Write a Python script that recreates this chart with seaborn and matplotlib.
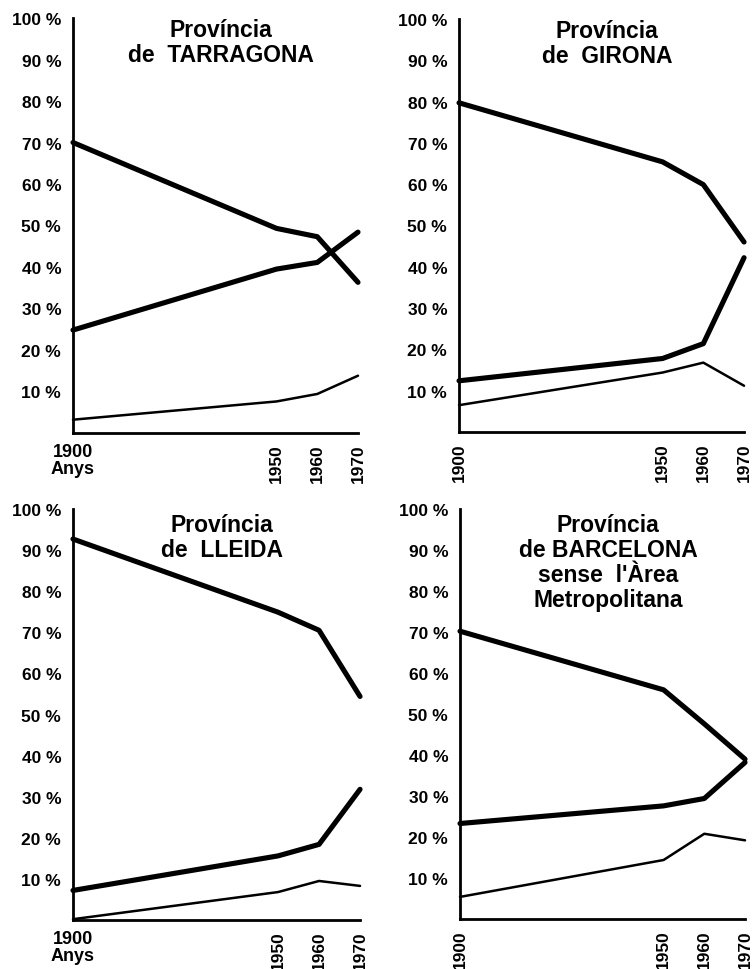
"""
Quatre províncies: evolució percentual 1900-1970 (tres sèries per panell)
"""

import pandas as pd
import seaborn as sns
import matplotlib.pyplot as plt

sns.set_style("white")
plt.rcParams['font.family'] = ['Liberation Sans', 'DejaVu Sans']
plt.rcParams['text.color'] = 'black'
plt.rcParams['xtick.color'] = 'black'
plt.rcParams['ytick.color'] = 'black'

# Dades llegides del gràfic original
anys = [1900, 1950, 1960, 1970]

tarragona_alta = [70.0, 49.3, 47.3, 36.3]
tarragona_mitjana = [24.8, 39.5, 41.1, 48.4]
tarragona_baixa = [3.2, 7.6, 9.4, 13.8]

girona_alta = [79.7, 65.4, 59.9, 46.0]
girona_mitjana = [12.4, 17.8, 21.4, 42.2]
girona_baixa = [6.5, 14.4, 16.8, 11.2]

lleida_alta = [92.7, 74.9, 70.5, 54.4]
lleida_mitjana = [7.2, 15.6, 18.4, 31.8]
lleida_baixa = [0.2, 6.8, 9.5, 8.3]

barcelona_alta = [70.2, 55.9, 47.6, 39.0]
barcelona_mitjana = [23.3, 27.6, 29.4, 38.2]
barcelona_baixa = [5.4, 14.4, 20.8, 19.2]

titols = [
    "Província\nde  TARRAGONA",
    "Província\nde  GIRONA",
    "Província\nde  LLEIDA",
    "Província\nde BARCELONA\nsense  l'Àrea\nMetropolitana",
]
y_ticks = [10, 20, 30, 40, 50, 60, 70, 80, 90, 100]
y_labels = [f"{v} %" for v in y_ticks]

provincies = [
    (tarragona_alta, tarragona_mitjana, tarragona_baixa),
    (girona_alta, girona_mitjana, girona_baixa),
    (lleida_alta, lleida_mitjana, lleida_baixa),
    (barcelona_alta, barcelona_mitjana, barcelona_baixa),
]

# posicions dels eixos (fracció de figura)
posicions = [
    [0.0968, 0.5526, 0.378, 0.4278],
    [0.6088, 0.5536, 0.378, 0.4258],
    [0.0968, 0.0505, 0.3807, 0.4237],
    [0.6101, 0.0515, 0.378, 0.4227],
]

fig = plt.figure(figsize=(7.54, 9.70), dpi=100)

for i, (series, titol, pos) in enumerate(zip(provincies, titols, posicions)):
    ax = fig.add_axes(pos)
    amples = [3.7, 3.7, 1.8]
    for valors, lw in zip(series, amples):
        df = pd.DataFrame({'Any': anys, 'Pct': valors})
        sns.lineplot(data=df, x='Any', y='Pct', color='black', linewidth=lw,
                     solid_capstyle='round', solid_joinstyle='round',
                     clip_on=False, ax=ax)

    ax.set_xlim(1900, 1970)
    ax.set_ylim(0, 100)
    ax.set_xlabel('')
    ax.set_ylabel('')
    for s in ['top', 'right']:
        ax.spines[s].set_visible(False)
    for s in ['left', 'bottom']:
        ax.spines[s].set_linewidth(2.0)
        ax.spines[s].set_color('black')

    ax.set_yticks(y_ticks)
    ax.set_yticklabels(y_labels, fontsize=12.5, fontweight='bold')
    ax.set_xticks(anys)
    if i % 2 == 0:
        ax.set_xticklabels(['1900\nAnys', '1950', '1960', '1970'],
                           fontsize=13, fontweight='bold')
        lbls = ax.get_xticklabels()
        lbls[0].set_linespacing(1.0)
        for lb in lbls[1:]:
            lb.set_rotation(90)
            lb.set_fontsize(12.5)
    else:
        ax.set_xticklabels(['1900', '1950', '1960', '1970'],
                           fontsize=12.5, fontweight='bold', rotation=90)
    ax.tick_params(axis='both', direction='inout', length=5, width=1.5,
                   color='black', pad=5)
    ax.tick_params(axis='y', pad=6)

    ax.text(0.52, 1.0 if i < 2 else 0.99, titol, transform=ax.transAxes,
            ha='center', va='top', fontsize=16.5, fontweight='bold',
            linespacing=1.1)

plt.savefig('out.png', dpi=100)
